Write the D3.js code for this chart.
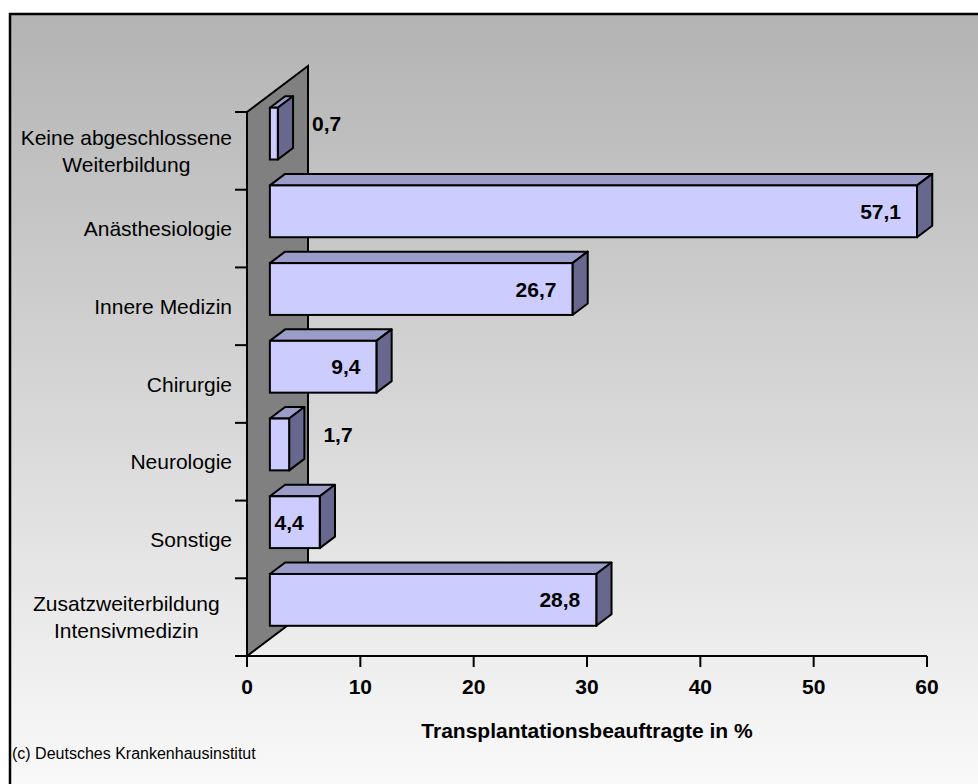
<!DOCTYPE html>
<html>
<head>
<meta charset="utf-8">
<script src="https://cdn.jsdelivr.net/npm/d3@7"></script>
<style>
html,body{margin:0;padding:0;background:#ffffff;}
svg{display:block;}
text{font-family:"Liberation Sans",Arial,Helvetica,sans-serif;fill:#000;}
</style>
</head>
<body>
<svg id="chart" width="978" height="784"></svg>
<script>
// ---- data ----
const categories = [
  "Keine abgeschlossene\nWeiterbildung",
  "Anästhesiologie",
  "Innere Medizin",
  "Chirurgie",
  "Neurologie",
  "Sonstige",
  "Zusatzweiterbildung\nIntensivmedizin"
];
const values = [0.7, 57.1, 26.7, 9.4, 1.7, 4.4, 28.8];
const xTicks = [0, 10, 20, 30, 40, 50, 60];
const xTitle = "Transplantationsbeauftragte in %";
const credit = "(c) Deutsches Krankenhausinstitut";

// ---- layout ----
const svg = d3.select("#chart");
const defs = svg.append("defs");
const grad = defs.append("linearGradient").attr("id","bg").attr("x1",0).attr("y1",0).attr("x2",0).attr("y2",1);
grad.append("stop").attr("offset","0%").attr("stop-color","#b3b3b3");
grad.append("stop").attr("offset","100%").attr("stop-color","#fbfbfb");

svg.append("rect").attr("x",10).attr("y",14).attr("width",980).attr("height",790)
  .attr("fill","url(#bg)").attr("stroke","#000").attr("stroke-width",2.5);

const x = d3.scaleLinear().domain([0,60]).range([247,927]);
const y = d3.scaleBand().domain(categories).range([112,656]).paddingInner(0).paddingOuter(0);

// depth projection
const DX = 61, DY = -46;
const d0 = 0.375, d1 = 0.625;
const fdx = DX*d0, fdy = DY*d0;
const bdx = DX*(d1-d0), bdy = DY*(d1-d0);
const barH = y.bandwidth()*2/3;

// wall
const wall = [[x(0), y.range()[0]], [x(0)+DX, y.range()[0]+DY], [x(0)+DX, y.range()[1]+DY], [x(0), y.range()[1]]];
svg.append("polygon").attr("points", wall.map(p=>p.join(",")).join(" "))
  .attr("fill","#808080").attr("stroke","#000").attr("stroke-width",2);

// axes
const xAxisG = svg.append("g").attr("transform",`translate(0,${y.range()[1]})`);
xAxisG.append("line").attr("x1",235).attr("x2",x(60)).attr("y1",0).attr("y2",0).attr("stroke","#000").attr("stroke-width",2);
xAxisG.selectAll("line.tick").data(xTicks).enter().append("line").attr("class","tick")
  .attr("x1",d=>x(d)).attr("x2",d=>x(d)).attr("y1",0).attr("y2",11).attr("stroke","#000").attr("stroke-width",2);
xAxisG.selectAll("text").data(xTicks).enter().append("text")
  .attr("x",d=>x(d)).attr("y",38).attr("text-anchor","middle")
  .attr("font-size",21).attr("font-weight","bold").text(d=>d);

svg.append("text").attr("x",(x(0)+x(60))/2).attr("y",738).attr("text-anchor","middle")
  .attr("font-size",21).attr("font-weight","bold").text(xTitle);

const bounds = categories.map(c=>y(c)).concat([y.range()[1]]);
svg.selectAll("line.ytick").data(bounds).enter().append("line").attr("class","ytick")
  .attr("x1",235).attr("x2",x(0)).attr("y1",d=>d).attr("y2",d=>d).attr("stroke","#000").attr("stroke-width",2);

// category labels: single lines right-aligned, wrapped labels centered in the widest wrapped block
const labelRight = 232;
const groups = categories.map(c=>{
  const lines = c.split("\n");
  const cy = y(c) + y.bandwidth()/2;
  const g = svg.append("g");
  const lh = 27;
  const ts = lines.map((l,i)=> g.append("text")
      .attr("y", cy + (i-(lines.length-1)/2)*lh + 7.5)
      .attr("font-size",21).text(l));
  return {lines, ts, w: d3.max(ts, t=>t.node().getComputedTextLength())};
});
const wrapW = d3.max(groups.filter(g=>g.lines.length>1), g=>g.w) || 0;
groups.forEach(g=>{
  if (g.lines.length>1) g.ts.forEach(t=>t.attr("x", labelRight - wrapW/2).attr("text-anchor","middle"));
  else g.ts.forEach(t=>t.attr("x", labelRight).attr("text-anchor","end"));
});

// bars
const fmt = v => String(v).replace(".", ",");
categories.forEach((c,i)=>{
  const v = values[i];
  const cy = y(c) + y.bandwidth()/2;
  const xl = x(0)+fdx, xr = x(v)+fdx;
  const yt = cy - barH/2 + fdy, yb = cy + barH/2 + fdy;
  const g = svg.append("g");
  const top = [[xl,yt],[xr,yt],[xr+bdx,yt+bdy],[xl+bdx,yt+bdy]];
  const side = [[xr,yt],[xr+bdx,yt+bdy],[xr+bdx,yb+bdy],[xr,yb]];
  g.append("polygon").attr("points",top.map(p=>p.join(",")).join(" "))
    .attr("fill","#9c9cc8").attr("stroke","#000").attr("stroke-width",2).attr("stroke-linejoin","round");
  g.append("polygon").attr("points",side.map(p=>p.join(",")).join(" "))
    .attr("fill","#68688f").attr("stroke","#000").attr("stroke-width",2).attr("stroke-linejoin","round");
  g.append("rect").attr("x",xl).attr("y",yt).attr("width",xr-xl).attr("height",yb-yt)
    .attr("fill","#ccccff").attr("stroke","#000").attr("stroke-width",2);
  const t = g.append("text").attr("font-size",21).attr("font-weight","bold").text(fmt(v));
  const tw = t.node().getComputedTextLength();
  if (xr - xl > tw + 14) {
    t.attr("x", xr - 16).attr("y", (yt+yb)/2 + 7.5).attr("text-anchor","end");
  } else {
    t.attr("x", xr + bdx + 19).attr("y", (yt+yb)/2 - 10 + 7.5).attr("text-anchor","start");
  }
});

svg.append("text").attr("x",12).attr("y",759).attr("font-size",16).text(credit);
</script>
</body>
</html>
